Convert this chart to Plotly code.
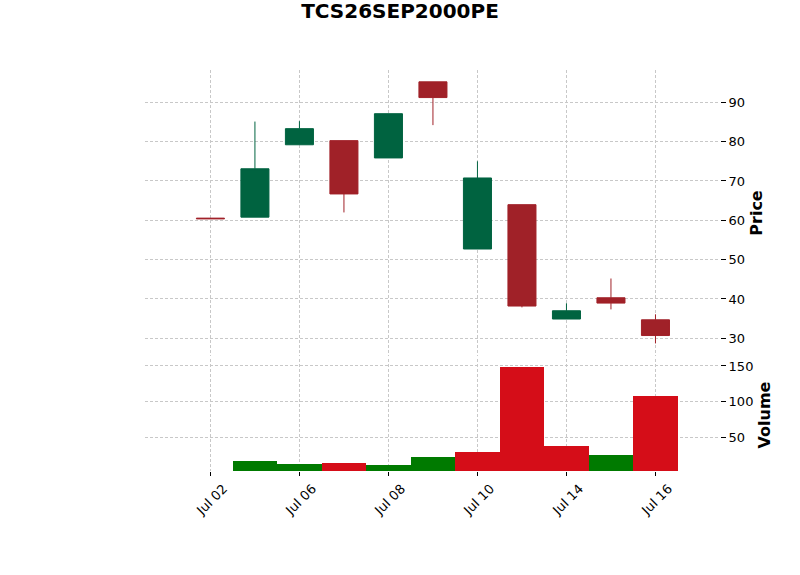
import plotly.graph_objects as go

# ---- data ----
dates = ["Jul 02", "Jul 03", "Jul 06", "Jul 07", "Jul 08", "Jul 09",
         "Jul 10", "Jul 13", "Jul 14", "Jul 15", "Jul 16"]
opens  = [60.55, 60.8, 79.2, 80.25, 75.85, 95.2, 52.7, 63.97, 34.9, 40.3, 34.7]
highs  = [60.55, 85.1, 85.2, 80.25, 87.1, 95.2, 75.0, 63.97, 38.9, 45.2, 36.1]
lows   = [60.4, 60.8, 79.2, 62.0, 75.85, 84.2, 52.7, 37.86, 34.9, 37.35, 28.7]
closes = [60.4, 73.1, 83.3, 66.7, 87.1, 91.2, 70.76, 38.2, 37.0, 38.95, 30.7]
volumes = [0, 17, 12.5, 14, 11, 22.3, 29.4, 149, 37.8, 25.1, 108]
vol_up = [True, True, True, False, True, True, False, False, False, True, False]
tick_dates = ["Jul 02", "Jul 06", "Jul 08", "Jul 10", "Jul 14", "Jul 16"]
price_ticks = [30, 40, 50, 60, 70, 80, 90]
volume_ticks = [50, 100, 150]
title = "TCS26SEP2000PE"

UP, DOWN = "#006340", "#A02128"
VUP, VDOWN = "#007a00", "#d50d18"
FONT = "DejaVu Sans"
GRID = "#c8c8c8"

fig = go.Figure()
fig.add_trace(go.Candlestick(
    x=dates, open=opens, high=highs, low=lows, close=closes,
    xaxis="x", yaxis="y",
    increasing=dict(line=dict(color=UP, width=1), fillcolor=UP),
    decreasing=dict(line=dict(color=DOWN, width=1), fillcolor=DOWN),
    whiskerwidth=0, showlegend=False,
))
fig.add_trace(go.Bar(
    x=dates, y=volumes, xaxis="x2", yaxis="y2", width=1,
    marker=dict(color=[VUP if u else VDOWN for u in vol_up], line=dict(width=0)),
    showlegend=False,
))

grid = dict(showgrid=True, gridcolor=GRID, gridwidth=0.8, griddash="3px,2px", zeroline=False, showline=False)
tickfont = dict(family=FONT, size=13, color="#000000")

fig.update_layout(
    width=800, height=575,
    margin=dict(l=145, r=80, t=70, b=104),
    paper_bgcolor="white", plot_bgcolor="white",
    font=dict(family=FONT, color="#000000"),
    boxgap=0.37, boxgroupgap=0,
    bargap=0,
    title=dict(text="<b>%s</b>" % title, x=0.5, xref="container", xanchor="center",
               y=1 - 11 / 575, yref="container", yanchor="middle",
               font=dict(family=FONT, size=20, color="#000000")),
    xaxis=dict(anchor="y", domain=[0, 1], type="category", range=[-1.47, 11.45],
               tickvals=tick_dates, showticklabels=False, ticks="",
               rangeslider=dict(visible=False), **grid),
    xaxis2=dict(anchor="y2", domain=[0, 1], type="category", matches="x", range=[-1.47, 11.45],
                tickvals=tick_dates, ticktext=tick_dates, tickangle=-45,
                ticks="outside", ticklen=4, tickwidth=1, tickcolor="#000000",
                tickfont=tickfont, ticklabelshift=13, **grid),
    yaxis=dict(anchor="x", domain=[0.2868, 1], side="right", range=[25.5, 98.21],
               tickvals=price_ticks, ticks="outside", ticklen=5, tickwidth=1, tickcolor="#000000",
               tickfont=tickfont,
               title=dict(text="<b>Price</b>", font=dict(family=FONT, size=16), standoff=6),
               **grid),
    yaxis2=dict(anchor="x2", domain=[0, 0.2793], side="right", range=[2.7, 159.8],
                tickvals=volume_ticks, ticks="outside", ticklen=5, tickwidth=1, tickcolor="#000000",
                tickfont=tickfont,
                title=dict(text="<b>Volume</b>", font=dict(family=FONT, size=16), standoff=6),
                **grid),
)

fig.write_html("out.html")
